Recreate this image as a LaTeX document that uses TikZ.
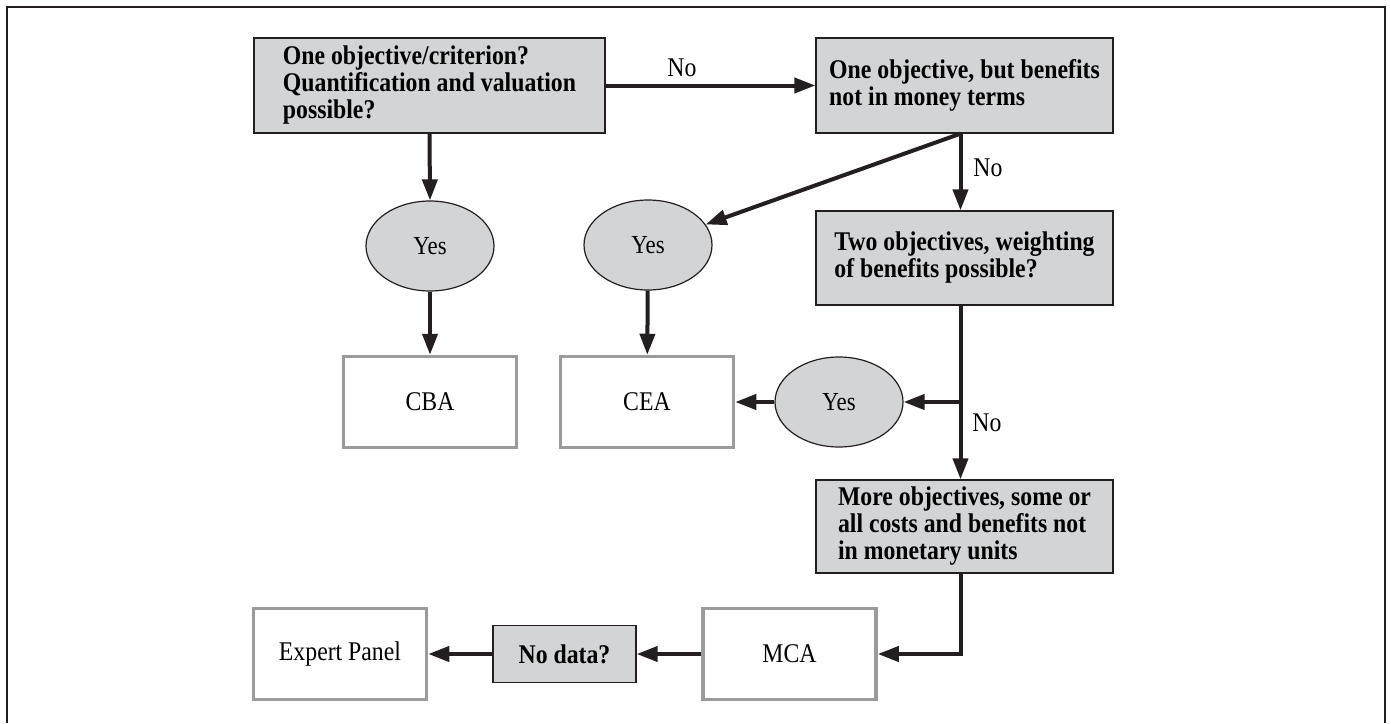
\documentclass[tikz,border=0pt]{standalone}
\usepackage{fontspec}
\setmainfont{Liberation Serif}[FakeStretch=0.88]
\usetikzlibrary{arrows.meta,shapes.geometric,calc}
\definecolor{boxfill}{HTML}{D3D4D6}
\definecolor{ink}{HTML}{231F20}
\definecolor{outgray}{HTML}{9A9B9D}
\begin{document}
\begin{tikzpicture}[x=1pt,y=-1pt,
  qbox/.style={draw=ink, line width=1.3pt, fill=boxfill, align=left, inner sep=0pt,
    font=\fontsize{27}{27}\selectfont\bfseries},
  ybox/.style={ellipse, draw=ink, line width=1.2pt, fill=boxfill, minimum width=128pt,
    minimum height=90pt, inner sep=0pt, font=\fontsize{26}{27}\selectfont},
  rbox/.style={draw=outgray, line width=3.5pt, fill=white, inner sep=0pt,
    minimum width=173pt, minimum height=91pt, font=\fontsize{27}{27}\selectfont},
  conn/.style={draw=ink, line width=4pt, -{Triangle[length=21pt,width=15pt]}},
  lbl/.style={font=\fontsize{27}{27}\selectfont, inner sep=0pt}]
\useasboundingbox (0,0) rectangle (1391,723);
% frame
\draw[ink, line width=2.6pt] (7,723) -- (7,7) -- (1385,7) -- (1385,723);
% question boxes
\node[qbox, minimum width=351pt, minimum height=95pt] (b1) at (429.5,85.5)
  {One objective/criterion?\\Quantification and valuation\\possible?};
\node[qbox, minimum width=297pt, minimum height=95pt] (b2) at (964.5,85.5)
  {One objective, but benefits\\not in money terms};
\node[qbox, minimum width=297pt, minimum height=94pt] (b3) at (964.5,258)
  {Two objectives, weighting\\of benefits possible?};
\node[qbox, minimum width=297pt, minimum height=93pt] (b4) at (964.5,526.5)
  {More objectives, some or\\all costs and benefits not\\in monetary units};
% yes ellipses
\node[ybox] (y1) at (430,246) {Yes};
\node[ybox] (y2) at (648,245) {Yes};
\node[ybox] (y3) at (839,402) {Yes};
% result boxes
\node[rbox] (cba) at (430,402) {CBA};
\node[rbox] (cea) at (647,402) {CEA};
\node[rbox] (mca) at (789.5,654) {MCA};
\node[rbox] (exp) at (340,654) {Expert Panel};
\node[qbox, minimum width=143pt, minimum height=57pt] (nd) at (564.5,654) {No data?};
% labels
\node[lbl] (no1) at (682,68) {No};
\node[lbl] (no2) at (988,168) {No};
\node[lbl] (no3) at (987,423) {No};
% connector anchors
\coordinate (s2) at ([xshift=-4pt]b2.south);
\coordinate (s3) at ([xshift=-4pt]b3.south);
\coordinate (s4) at ([xshift=-4pt]b4.north);
\coordinate (s5) at ([xshift=-4pt]b4.south);
% connectors
\draw[conn] (b1) -- (b2);
\draw[conn] (b1.south) -- (y1.north);
\draw[conn] (y1) -- (cba);
\draw[conn] (s2) -- (y2);
\draw[conn] (s2) -- (s2 |- b3.north);
\draw[conn] (y2) -- (cea);
\draw[conn] (s3) -- (s4);
\draw[conn] (s3 |- y3) -- (y3);
\draw[conn] (y3) -- (cea);
\draw[conn] (s5) |- (mca);
\draw[conn] (mca) -- (nd);
\draw[conn] (nd) -- (exp);
\end{tikzpicture}
\end{document}
